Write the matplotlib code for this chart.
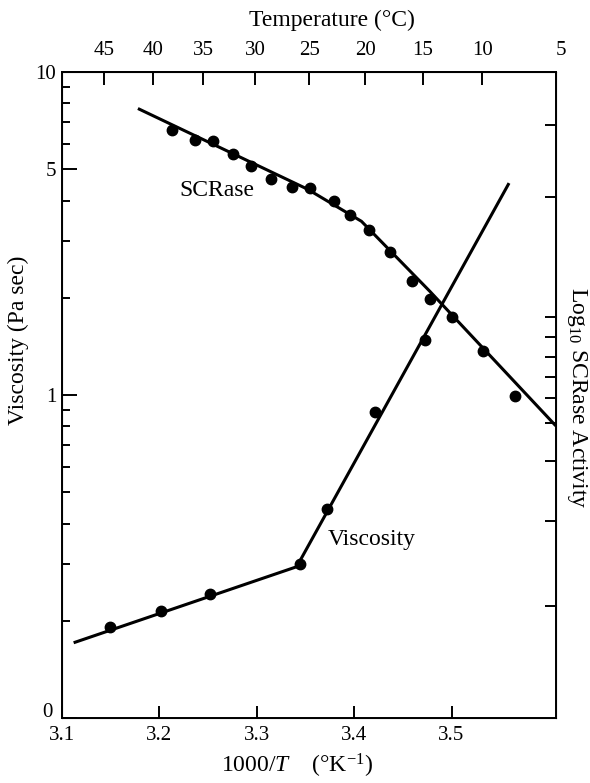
import numpy as np
import matplotlib.pyplot as plt
import matplotlib.transforms as mtransforms
from matplotlib.ticker import FixedLocator, NullLocator, NullFormatter

plt.rcParams['font.family'] = 'Liberation Serif'
plt.rcParams['mathtext.fontset'] = 'custom'
plt.rcParams['mathtext.rm'] = 'Liberation Serif'
plt.rcParams['mathtext.it'] = 'Liberation Serif:italic'

# 1000/T (1/K) and viscosity (Pa sec)
visc_x = [3.149, 3.202, 3.252, 3.344, 3.372, 3.421, 3.473]
visc_y = [0.191, 0.214, 0.242, 0.299, 0.444, 0.889, 1.48]
visc_fit_x = [3.112, 3.341, 3.559]
visc_fit_y = [0.171, 0.294, 4.53]

scr_x = [3.213, 3.237, 3.255, 3.276, 3.294, 3.315, 3.336, 3.355, 3.379,
         3.396, 3.415, 3.437, 3.459, 3.478, 3.500, 3.532, 3.565]
scr_y = [6.60, 6.18, 6.10, 5.56, 5.11, 4.68, 4.40, 4.36, 3.99,
         3.62, 3.24, 2.78, 2.26, 1.98, 1.74, 1.37, 0.993]
scr_fit_x = [3.178, 3.352, 3.4075, 3.478, 3.607]
scr_fit_y = [7.71, 4.34, 3.45, 2.09, 0.803]

x_ticks = [3.1, 3.2, 3.3, 3.4, 3.5]
y_ticks = [0.1, 1, 5, 10]
y_labels = ['0', '1', '5', '10']
y_minor = [0.2, 0.3, 0.4, 0.5, 0.6, 0.7, 0.8, 0.9, 2, 3, 4, 6, 7, 8, 9]
right_ticks = [6.85, 4.09, 1.74, 1.51, 1.31, 1.14, 0.976, 0.817, 0.627, 0.408, 0.222]
temps = [45, 40, 35, 30, 25, 20, 15, 10]

fig = plt.figure(figsize=(5.9, 7.83), dpi=100)
ax = fig.add_axes([0.105, 0.083, 0.837, 0.825])

ax.plot(visc_fit_x, visc_fit_y, color='black', lw=2.2, solid_capstyle='butt')
ax.plot(visc_x, visc_y, 'o', color='black', ms=7.5)
ax.plot(scr_fit_x, scr_fit_y, color='black', lw=2.2, solid_capstyle='butt')
ax.plot(scr_x, scr_y, 'o', color='black', ms=7.5)

ax.text(3.259, 4.30, 'SCRase', fontsize=17, ha='center', va='center')
ax.text(3.373, 0.357, 'Viscosity', fontsize=17, ha='left', va='center')

ax.set_yscale('log')
ax.set_xlim(3.1, 3.607)
ax.set_ylim(0.1, 10)
ax.set_xticks(x_ticks, [str(v) for v in x_ticks])
ax.yaxis.set_major_locator(FixedLocator(y_ticks))
ax.set_yticklabels(y_labels)
ax.yaxis.set_minor_locator(FixedLocator(y_minor))
ax.yaxis.set_minor_formatter(NullFormatter())

for s in ax.spines.values():
    s.set_linewidth(1.4)
ax.tick_params(axis='y', which='major', direction='in', length=11, width=1.4,
               labelsize=15, pad=4, right=False)
ax.tick_params(axis='y', which='minor', direction='in', length=6, width=1.4, right=False)
ax.tick_params(axis='x', direction='in', length=9, width=1.4, labelsize=15, pad=6, top=False)

# lift the "0" a little so it clears the 3.1
lbl0 = ax.yaxis.get_major_ticks()[0].label1
lbl0.set_transform(lbl0.get_transform() +
                   mtransforms.ScaledTranslation(-3 / 72, 6 / 72, fig.dpi_scale_trans))

# temperature scale on top
top = ax.secondary_xaxis('top')
top.set_xticks([1000 / (t + 273.15) for t in temps], [str(t) for t in temps])
top.tick_params(direction='in', length=9, width=1.4, labelsize=15, pad=9)
ax.text(1.01, 1.018, '5', transform=ax.transAxes, fontsize=15, ha='center', va='bottom')
top.spines['top'].set_linewidth(1.4)

# right axis (log SCRase activity) - ticks only
ax2 = ax.twinx()
ax2.set_yscale('log')
ax2.set_ylim(0.1, 10)
ax2.yaxis.set_major_locator(FixedLocator(right_ticks))
ax2.yaxis.set_minor_locator(NullLocator())
ax2.yaxis.set_major_formatter(NullFormatter())
ax2.tick_params(axis='y', direction='in', length=8, width=1.4)

fig.text(332 / 590, 1 - 20 / 783, 'Temperature (°C)', fontsize=17, ha='center', va='center')
fig.text(297 / 590, 1 - 766 / 783, '1000/$T$    (°K$^{-1}$)', fontsize=17, ha='center', va='center')
fig.text(18 / 590, 1 - 340 / 783, 'Viscosity (Pa sec)', fontsize=17, rotation=90,
         ha='center', va='center')
fig.text(577 / 590, 1 - 398 / 783, 'Log$_{10}$ SCRase Activity', fontsize=17, rotation=270,
         ha='center', va='center')

fig.savefig('out.png', dpi=100)
